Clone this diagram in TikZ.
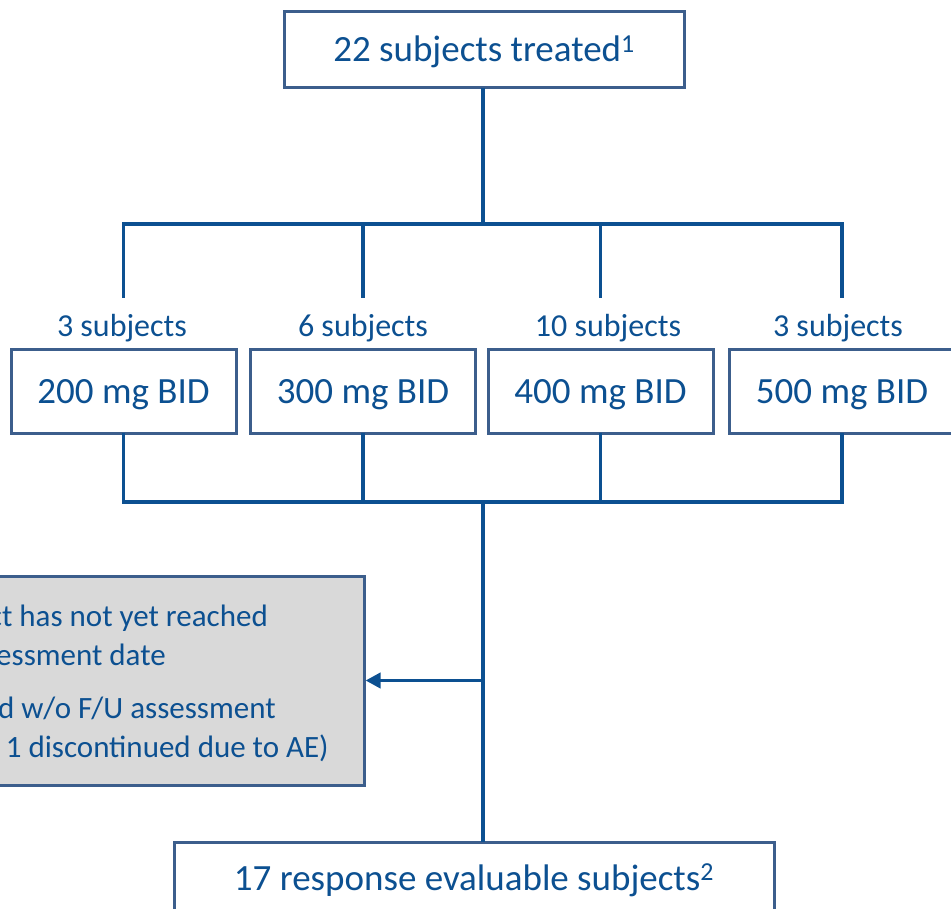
\documentclass[tikz,border=0pt]{standalone}
\usepackage{fontspec}
\setmainfont{Carlito}
\usetikzlibrary{positioning,arrows.meta}
\definecolor{flowblue}{RGB}{12,80,145}
\definecolor{boxblue}{RGB}{60,94,140}
\definecolor{boxgray}{RGB}{217,217,217}
\tikzset{
  flowbox/.style={draw=boxblue, line width=3pt, fill=white, text=flowblue,
    font=\fontsize{37}{44}\selectfont, inner sep=0pt, text height=30pt, text depth=6pt},
  doselabel/.style={text=flowblue, font=\fontsize{32}{38}\selectfont, inner sep=0pt},
  graytext/.style={text=flowblue, font=\fontsize{31}{37}\selectfont, inner sep=0pt, anchor=base east},
  flowline/.style={draw=flowblue, line width=3.8pt, line cap=rect},
}
\begin{document}
\begin{tikzpicture}[x=1pt,y=-1pt]
\useasboundingbox (0,0) rectangle (951,909);

% Treated subjects
\node[flowbox, minimum width=400pt, minimum height=76pt] (top) at (484,50) {22 subjects treated\textsuperscript{1}};

% Dose cohorts with their subject counts
\foreach \i/\x/\lx/\dose/\n in {1/123.5/122/200/3, 2/363/363/300/6, 3/600.5/608/400/10, 4/842/838/500/3} {
  \node[flowbox, minimum width=225pt, minimum height=83pt] (d\i) at (\x,391.5) {\dose{} mg BID};
  \node[doselabel, anchor=base] (n\i) at (\lx,337) {\n{} subjects};
}

% Split and join points
\coordinate (split) at (483,224);
\coordinate (stub) at (0,296);
\coordinate (join) at (483,502);

\draw[flowline] (top.south -| split) -- (split);
\draw[flowline] (d1.north |- split) -- (d4.north |- split);
\draw[flowline] (d1.south |- join) -- (d4.south |- join);
\foreach \i in {1,...,4} {
  \draw[flowline] (d\i.north |- split) -- (d\i.north |- stub);
  \draw[flowline] (d\i.south) -- (d\i.south |- join);
}

% Excluded subjects
\node[draw=boxblue, line width=3pt, fill=boxgray, minimum width=484pt, minimum height=209pt, inner sep=0pt] (excl) at (122,680.5) {};
\node[graytext] (g1) at (268,626) {\textbullet\ 1 subject has not yet reached};
\node[graytext] (g2) at (166,665) {first assessment date};
\node[graytext] (g3) at (276,718) {\textbullet\ 4 discontinued w/o F/U assessment};
\node[graytext] (g4) at (329,757) {(incl. 1 discontinued due to AE)};

% Evaluable subjects
\node[flowbox, minimum width=600pt, minimum height=72pt] (eval) at (474,878) {17 response evaluable subjects\textsuperscript{2}};

\coordinate (branch) at (join |- excl.east);
\draw[flowline] (join) -- (join |- eval.north);
\draw[flowline, line cap=butt, -{Triangle[length=15pt,width=15pt]}] (branch) -- (excl.east);

\end{tikzpicture}
\end{document}
